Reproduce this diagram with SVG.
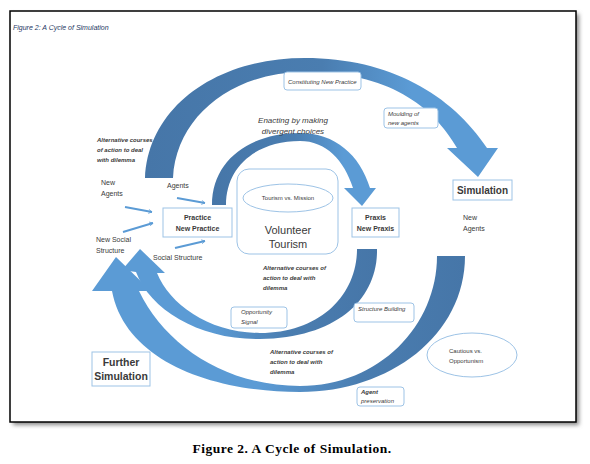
<svg xmlns="http://www.w3.org/2000/svg" width="590" height="464" viewBox="0 0 590 464">
<defs>
<style>
text{font-family:"Liberation Sans",Arial,sans-serif;fill:#3a3a3a}
.it{font-style:italic}
.bi{font-style:italic;font-weight:bold}
.b{font-weight:bold}
.s6{font-size:6px}
.s7{font-size:7px}
.s8{font-size:8px}
.box{fill:#fff;stroke:#9dc3e6;stroke-width:1}
.sa{stroke:#5b9bd5;stroke-width:2;fill:none;marker-end:url(#oa)}
.mid{text-anchor:middle}
</style>
<marker id="oa" viewBox="0 0 10 10" refX="8" refY="5" markerWidth="5" markerHeight="5" orient="auto" markerUnits="userSpaceOnUse">
<path d="M1,1 L8,5 L1,9" fill="none" stroke="#5b9bd5" stroke-width="1.5"/>
</marker>
<linearGradient id="gTop" gradientUnits="userSpaceOnUse" x1="145" y1="0" x2="500" y2="0">
<stop offset="0" stop-color="#4676a8"/><stop offset="0.5" stop-color="#4a7db0"/><stop offset="0.75" stop-color="#5b9bd5"/><stop offset="1" stop-color="#5b9bd5"/>
</linearGradient>
<linearGradient id="gIn" gradientUnits="userSpaceOnUse" x1="212" y1="0" x2="376" y2="0">
<stop offset="0" stop-color="#4676a8"/><stop offset="0.5" stop-color="#4a7db0"/><stop offset="0.8" stop-color="#5b9bd5"/><stop offset="1" stop-color="#5b9bd5"/>
</linearGradient>
<linearGradient id="gLowIn" gradientUnits="userSpaceOnUse" x1="122" y1="0" x2="377" y2="0">
<stop offset="0" stop-color="#5b9bd5"/><stop offset="0.35" stop-color="#5b9bd5"/><stop offset="0.65" stop-color="#4a7db0"/><stop offset="1" stop-color="#4676a8"/>
</linearGradient>
<linearGradient id="gLowOut" gradientUnits="userSpaceOnUse" x1="92" y1="0" x2="465" y2="0">
<stop offset="0" stop-color="#5b9bd5"/><stop offset="0.45" stop-color="#5b9bd5"/><stop offset="0.72" stop-color="#4a7db0"/><stop offset="1" stop-color="#4676a8"/>
</linearGradient>
<filter id="sh" x="-5%" y="-5%" width="110%" height="110%">
<feGaussianBlur stdDeviation="2"/>
</filter>
</defs>
<rect width="590" height="464" fill="#fff"/>
<rect x="13" y="14" width="566" height="411" fill="#888" filter="url(#sh)"/>
<rect x="10" y="11" width="566" height="411" fill="#fff" stroke="#000" stroke-width="1.5"/>
<text x="13" y="30" class="it" style="font-size:7px;fill:#1f3864">Figure 2: A Cycle of Simulation</text>

<g id="connectors">
<path id="arc-top" fill="url(#gTop)" d="M145,178 C148,108 215,58 305,58 C390,58 452,95 487,148 L498,148 L478,177 L447,148 L457,148 C433,106 388,72 305,72 C232,72 176,117 173,178 Z"/>
<path id="arc-inner-top" fill="url(#gIn)" d="M212,205 C212,160 250,133 300,133 C335,133 360,155 370,188 L376,188 L362,206 L344,188 L353,188 C344,160 326,141 300,141 C258,141 226,165 226,205 Z"/>
<path id="arc-lower-inner" fill="url(#gLowIn)" d="M377,249 C378,298 338,338 260,339 C200,340 150,310 136,272 L122,270 L140,249 L165,273 L157,273 C170,305 210,333 260,333 C320,333 357,295 357,249 Z"/>
<path id="arc-lower-big" fill="url(#gLowOut)" d="M465,256 C465,335 390,392 300,392 C210,392 125,360 112,291 L92,291 L116,257 L151,291 L139,291 C165,345 225,386 300,386 C380,386 437,325 437,256 Z"/>
<path class="sa" d="M125,207 L152,212"/>
<path class="sa" d="M123,232 L153,223"/>
<path class="sa" d="M177,198 L205,203"/>
<path class="sa" d="M175,248 L205,241"/>
</g>

<g id="n-constituting"><rect class="box" x="284" y="72" width="77" height="18" rx="3"/><text class="it s6" x="288" y="84">Constituting New Practice</text></g>
<g id="n-moulding"><rect class="box" x="384" y="108" width="54" height="20" rx="3"/><text class="it s6" x="388" y="116">Moulding of</text><text class="it s6" x="388" y="125">new agents</text></g>
<g id="n-simulation"><rect class="box" x="453" y="180" width="59" height="20"/><text class="b mid" style="font-size:10px" x="482.5" y="194">Simulation</text></g>
<g id="t-newagents-r"><text class="s7" x="463" y="220">New</text><text class="s7" x="463" y="231">Agents</text></g>
<g id="t-enacting"><text class="it s8 mid" x="293" y="123">Enacting by making</text><text class="it s8 mid" x="293" y="134">divergent choices</text></g>
<g id="t-alt1"><text class="bi s6" x="97" y="142">Alternative courses</text><text class="bi s6" x="97" y="152">of action to deal</text><text class="bi s6" x="97" y="162">with dilemma</text></g>
<g id="t-newagents-l"><text class="s7" x="101" y="185">New</text><text class="s7" x="101" y="196">Agents</text></g>
<g id="t-agents"><text class="s7" x="167" y="188">Agents</text></g>
<g id="n-practice"><rect class="box" x="163" y="208" width="69" height="29"/><text class="b s7 mid" x="197.5" y="220">Practice</text><text class="b s7 mid" x="197.5" y="231">New Practice</text></g>
<g id="t-newsocial"><text class="s7" x="96" y="242">New Social</text><text class="s7" x="96" y="253">Structure</text></g>
<g id="t-social"><text class="s7" x="153" y="260">Social Structure</text></g>
<g id="n-volunteer"><rect class="box" x="237" y="169" width="101" height="85" rx="12"/><ellipse class="box" cx="288" cy="198" rx="45" ry="14"/><text class="s6 mid" x="288" y="200">Tourism vs. Mission</text><text class="mid" style="font-size:11px" x="288" y="234">Volunteer</text><text class="mid" style="font-size:11px" x="288" y="248">Tourism</text></g>
<g id="n-praxis"><rect class="box" x="352" y="208" width="47" height="29"/><text class="b s7 mid" x="375.5" y="220">Praxis</text><text class="b s7 mid" x="375.5" y="231">New Praxis</text></g>
<g id="t-alt2"><text class="bi s6" x="263" y="270">Alternative courses of</text><text class="bi s6" x="263" y="280">action to deal with</text><text class="bi s6" x="263" y="290">dilemma</text></g>
<g id="n-opportunity"><rect class="box" x="231" y="307" width="56" height="21" rx="3"/><text class="it s6" x="241" y="314">Opportunity</text><text class="it s6" x="241" y="324">Signal</text></g>
<g id="n-structure"><rect class="box" x="354" y="303" width="60" height="19" rx="3"/><text class="it s6" x="358" y="311">Structure Building</text></g>
<g id="t-alt3"><text class="bi s6" x="270" y="354">Alternative courses of</text><text class="bi s6" x="270" y="364">action to deal with</text><text class="bi s6" x="270" y="374">dilemma</text></g>
<g id="n-agentpres"><rect class="box" x="357" y="387" width="47" height="19" rx="3"/><text class="bi s6" x="361" y="394">Agent</text><text class="it s6" x="361" y="403">preservation</text></g>
<g id="n-cautious"><ellipse class="box" cx="472" cy="355" rx="45" ry="22"/><text class="s6" x="449" y="353">Cautious vs.</text><text class="s6" x="449" y="363">Opportunism</text></g>
<g id="n-further"><rect class="box" x="92" y="352" width="58" height="34"/><text class="b mid" style="font-size:10.5px" x="121" y="366">Further</text><text class="b mid" style="font-size:10.5px" x="121" y="380">Simulation</text></g>
<text x="292" y="453" class="mid" style="font-family:'Liberation Serif','Times New Roman',serif;font-weight:bold;font-size:13.5px;letter-spacing:0.5px;fill:#000">Figure 2. A Cycle of Simulation.</text>
</svg>
